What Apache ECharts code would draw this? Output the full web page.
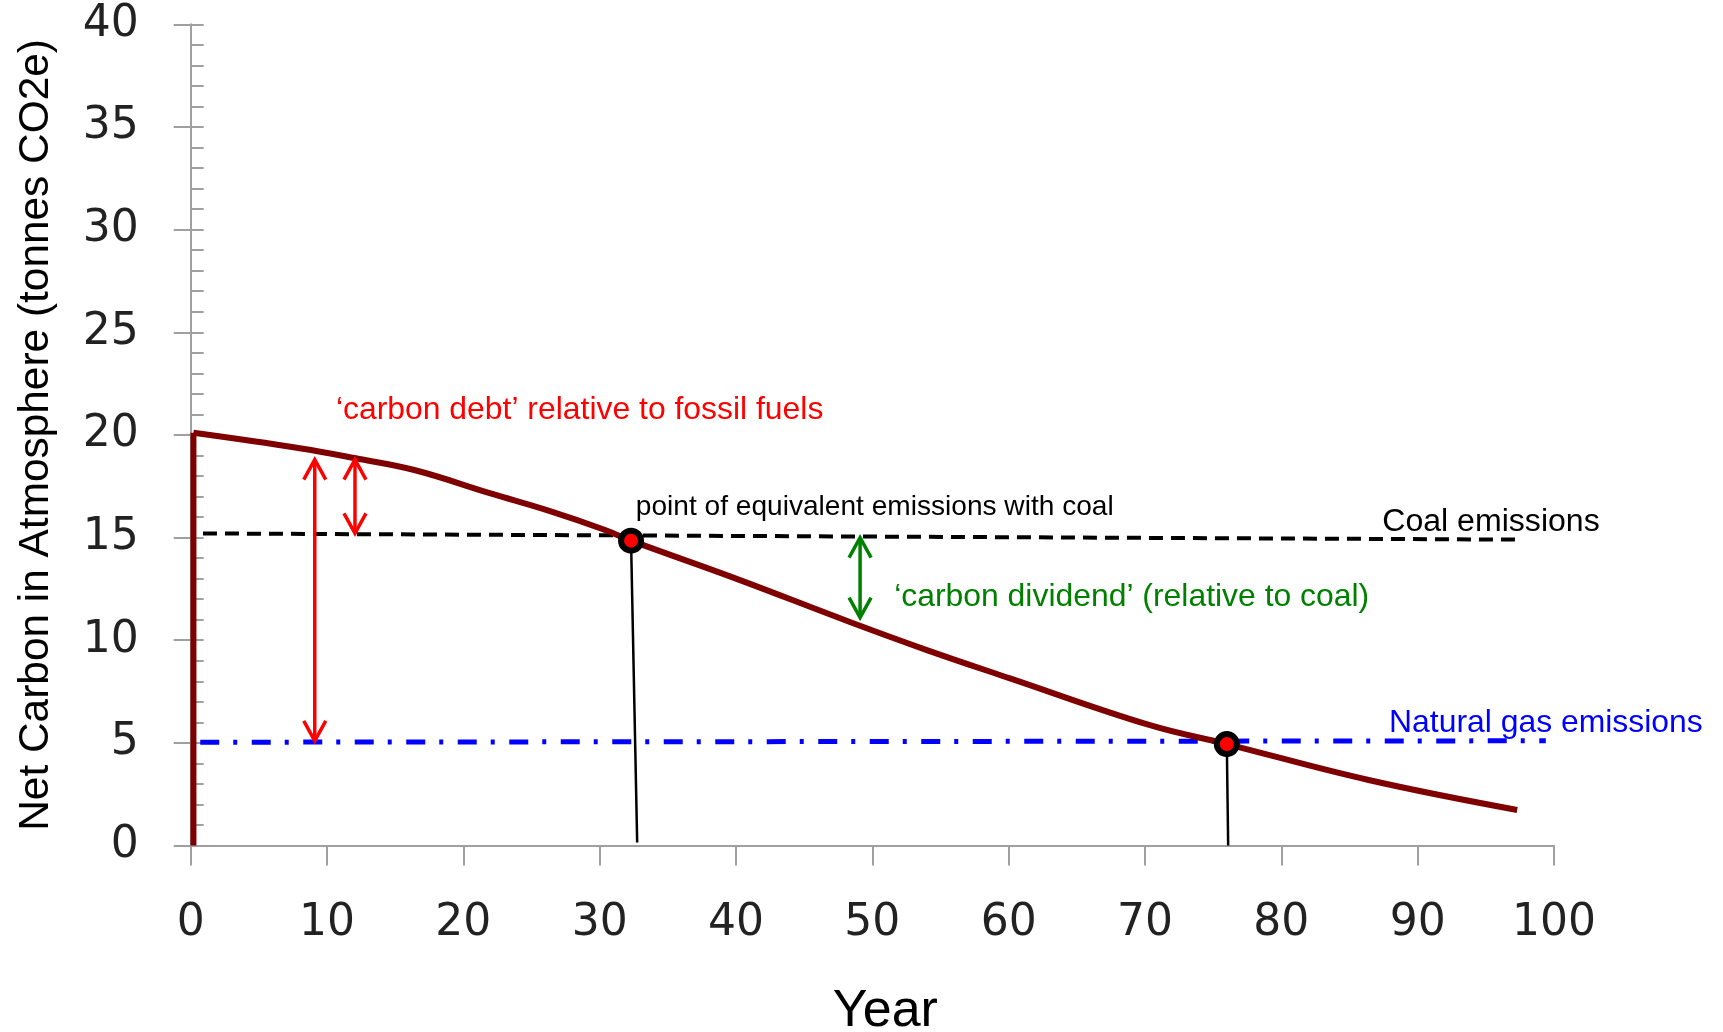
<!DOCTYPE html>
<html>
<head>
<meta charset="utf-8">
<script src="https://cdn.jsdelivr.net/npm/echarts@6/dist/echarts.min.js"></script>
<style>
html,body{margin:0;padding:0;background:#fff;}
#chart{width:1723px;height:1032px;}
</style>
</head>
<body>
<div id="chart"></div>
<script>
// ---- data (years, tonnes CO2e) ----
const xTicks = [0, 10, 20, 30, 40, 50, 60, 70, 80, 90, 100];
const yTicks = [0, 5, 10, 15, 20, 25, 30, 35, 40];
const initialPulse = [[0.2, 0], [0.2, 20.1]];
const netCarbon = [
  [0.2, 20.1], [8.0, 19.35], [12.1, 18.86], [16.4, 18.29], [22.0, 17.15],
  [26.3, 16.3], [30.4, 15.37], [32.3, 14.85], [40.0, 13.0], [48.3, 10.9],
  [54.0, 9.52], [60.1, 8.14], [70.3, 5.87], [76.0, 4.94], [86.4, 3.19], [97.3, 1.73]
];
const coalEmissions = [[0.9, 15.2], [97.3, 14.9]];
const gasEmissions = [[0.7, 5.03], [99.4, 5.1]];
const equivalencePoints = [[32.3, 14.85], [76.0, 4.94]];
const dropLineCoal = [[32.3, 14.85], [32.75, 0.15]];
const dropLineGas = [[76.0, 4.94], [76.1, 0]];
const debtArrows = [[9.1, 5.1, 18.8], [12.05, 15.2, 18.8]];   // x, low, high
const dividendArrows = [[49.1, 15.0, 11.1]];                   // x, top, bottom
const annotations = [
  { x: 10.65, y: 21.2, text: '\u2018carbon debt\u2019 relative to fossil fuels', kind: 'debt' },
  { x: 32.65, y: 16.5, text: 'point of equivalent emissions with coal', kind: 'point' },
  { x: 87.4, y: 15.75, text: 'Coal emissions', kind: 'coal' },
  { x: 51.6, y: 12.07, text: '\u2018carbon dividend\u2019 (relative to coal)', kind: 'dividend' },
  { x: 87.9, y: 5.98, text: 'Natural gas emissions', kind: 'gas' }
];
const xName = 'Year';
const yName = 'Net Carbon in Atmosphere (tonnes CO2e)';

// ---- styles ----
const annStyle = {
  debt: { fill: '#ff0000', size: 31.9 },
  point: { fill: '#000000', size: 28.1 },
  coal: { fill: '#000000', size: 32.1 },
  dividend: { fill: '#008000', size: 31.9 },
  gas: { fill: '#0000ff', size: 31.9 }
};
const axisGray = '#a0a0a0';
const tickFont = { fontFamily: 'DejaVu Sans', fontSize: 44, color: '#222' };

const chart = echarts.init(document.getElementById('chart'), null, { renderer: 'canvas' });

function arrowRender(color) {
  return function (params, api) {
    const x = api.value(0);
    const a = api.coord([x, api.value(1)]);
    const b = api.coord([x, api.value(2)]);
    const top = a[1] < b[1] ? a : b;
    const bot = a[1] < b[1] ? b : a;
    const hw = 11;
    const hh = 20;
    const st = { stroke: color, lineWidth: 3.5, fill: null, lineJoin: 'miter' };
    return {
      type: 'group',
      children: [
        { type: 'line', shape: { x1: top[0], y1: top[1] + 2, x2: bot[0], y2: bot[1] - 2 }, style: st },
        { type: 'polyline', shape: { points: [[top[0] - hw, top[1] + hh], [top[0], top[1]], [top[0] + hw, top[1] + hh]] }, style: st },
        { type: 'polyline', shape: { points: [[bot[0] - hw, bot[1] - hh], [bot[0], bot[1]], [bot[0] + hw, bot[1] - hh]] }, style: st }
      ]
    };
  };
}

const option = {
  animation: false,
  backgroundColor: '#ffffff',
  grid: { left: 190.7, right: 169, top: 24.3, bottom: 186.5, containLabel: false, outerBoundsMode: 'none' },
  xAxis: {
    type: 'value', min: 0, max: 100, interval: 10,
    name: xName, nameLocation: 'middle', nameGap: 140,
    nameTextStyle: { fontFamily: 'Liberation Sans', fontSize: 52, color: '#000', padding: [0, 0, 0, 26] },
    axisLine: { show: true, onZero: false, lineStyle: { color: axisGray, width: 2 } },
    axisTick: { show: true, inside: false, length: 20, lineStyle: { color: axisGray, width: 2 } },
    axisLabel: Object.assign({ margin: 56, formatter: function (v) { return xTicks.indexOf(v) >= 0 ? String(v) : ''; } }, tickFont),
    splitLine: { show: false }
  },
  yAxis: [
    {
      type: 'value', min: 0, max: 40, interval: 5, position: 'left',
      name: yName, nameLocation: 'middle', nameGap: 133, nameRotate: 90,
      nameTextStyle: { fontFamily: 'Liberation Sans', fontSize: 42.4, color: '#000' },
      axisLine: { show: true, lineStyle: { color: axisGray, width: 2 } },
      axisTick: { show: true, inside: false, length: 17, lineStyle: { color: axisGray, width: 2 } },
      axisLabel: Object.assign({ margin: 52, formatter: function (v) { return yTicks.indexOf(v) >= 0 ? String(v) : ''; } }, tickFont),
      splitLine: { show: false }
    },
    {
      type: 'value', min: 0, max: 40, interval: 5, position: 'left', offset: 0,
      axisLine: { show: false },
      axisTick: { show: true, inside: true, length: 13, lineStyle: { color: axisGray, width: 2 } },
      minorTick: { show: true, splitNumber: 5, length: 13, lineStyle: { color: axisGray, width: 2 } },
      axisLabel: { show: false },
      splitLine: { show: false }
    }
  ],
  series: [
    {
      type: 'line', name: 'Natural gas emissions', data: gasEmissions, symbol: 'none', z: 2,
      lineStyle: { color: '#0000ff', width: 5, type: [19, 14, 4, 14.5] }
    },
    {
      type: 'line', name: 'Coal emissions', data: coalEmissions, symbol: 'none', z: 2,
      lineStyle: { color: '#000000', width: 4, type: [14, 8] }
    },
    {
      type: 'line', name: 'drop coal', data: dropLineCoal, symbol: 'none', z: 3,
      lineStyle: { color: '#000000', width: 2.5 }
    },
    {
      type: 'line', name: 'drop gas', data: dropLineGas, symbol: 'none', z: 3,
      lineStyle: { color: '#000000', width: 2.5 }
    },
    {
      type: 'line', name: 'pulse', data: initialPulse, symbol: 'none', z: 4,
      lineStyle: { color: '#7f0000', width: 6, cap: 'butt' }
    },
    {
      type: 'line', name: 'Net carbon', data: netCarbon, symbol: 'none', smooth: 0.4, z: 4,
      lineStyle: { color: '#7f0000', width: 6, join: 'round' }
    },
    {
      type: 'custom', name: 'debt arrows', data: debtArrows, z: 5,
      renderItem: arrowRender('#ff0000')
    },
    {
      type: 'custom', name: 'dividend arrows', data: dividendArrows, z: 5,
      renderItem: arrowRender('#008000')
    },
    {
      type: 'scatter', name: 'equivalence', data: equivalencePoints, z: 6,
      symbol: 'circle', symbolSize: 20,
      itemStyle: { color: '#ff0000', borderColor: '#000000', borderWidth: 6, opacity: 1 }
    },
    {
      type: 'custom', name: 'annotations', z: 7,
      data: annotations.map(function (a) { return [a.x, a.y]; }),
      renderItem: function (params, api) {
        const a = annotations[params.dataIndex];
        const p = api.coord([api.value(0), api.value(1)]);
        const s = annStyle[a.kind];
        return {
          type: 'text', x: p[0], y: p[1],
          style: {
            text: a.text, fill: s.fill, fontSize: s.size, fontFamily: 'Liberation Sans',
            align: 'left', verticalAlign: 'middle'
          }
        };
      }
    }
  ]
};
chart.setOption(option);
</script>
</body>
</html>
